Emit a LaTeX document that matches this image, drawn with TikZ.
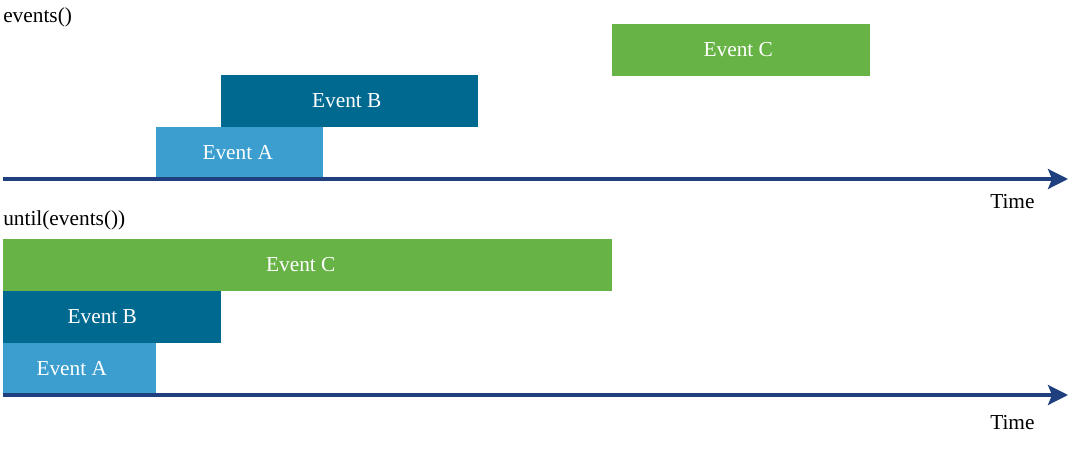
\documentclass[tikz,border=0pt]{standalone}
\usepackage{fontspec}
\setmainfont{Liberation Serif}
\usepackage{tikz}
\usetikzlibrary{arrows.meta, positioning}
\definecolor{eventlight}{RGB}{59, 158, 207}
\definecolor{eventdark}{RGB}{0, 105, 144}
\definecolor{eventgreen}{RGB}{103, 179, 70}
\definecolor{axisnavy}{RGB}{31, 63, 127}
\newdimen\px
\px=0.75pt

\begin{document}
\begin{tikzpicture}[
		x=0.75pt, y=-0.75pt,
		font=\fontsize{16}{19}\selectfont,
		event/.style={rectangle, anchor=south west, inner sep=0pt, minimum height=52\px},
		eventtext/.style={text=white, inner sep=0pt},
		timeaxis/.style={-{Stealth[length=15pt, width=15pt, inset=3pt]}, line width=2.3pt, draw=axisnavy},
		label/.style={anchor=base west, inner sep=0pt}
	]
	\useasboundingbox (0,0) rectangle (1090,454);
	% events()
	\node[label] (eventsl) at (3,22) {events()};
	\node[event, fill=eventlight, minimum width=167\px] (topa) at (156,179) {};
	\node[event, fill=eventdark, minimum width=257\px] (topb) at (221,127) {};
	\node[event, fill=eventgreen, minimum width=258\px] (topc) at (612,76) {};
	\node[eventtext, xshift=-2\px] at (topa) {Event A};
	\node[eventtext, xshift=-3\px] at (topb) {Event B};
	\node[eventtext, xshift=-3\px] at (topc) {Event C};
	\coordinate (t0) at (3,179);
	\coordinate (t1) at (1068,179);
	\draw[timeaxis] (t0) -- (t1);
	\node[label] (time1) at (990,208) {Time};
	
	% until(events())
	\node[label] (untill) at (3,225) {until(events())};
	\node[event, fill=eventlight, minimum width=153\px] (bota) at (3,395) {};
	\node[event, fill=eventdark, minimum width=218\px] (botb) at (3,343) {};
	\node[event, fill=eventgreen, minimum width=609\px] (botc) at (3,291) {};
	\node[eventtext, xshift=-8\px] at (bota) {Event A};
	\node[eventtext, xshift=-10\px] at (botb) {Event B};
	\node[eventtext, xshift=-7\px] at (botc) {Event C};
	\coordinate (u0) at (3,395);
	\coordinate (u1) at (1068,395);
	\draw[timeaxis] (u0) -- (u1);
	\node[label] (time2) at (990,429) {Time};
\end{tikzpicture}
\end{document}
